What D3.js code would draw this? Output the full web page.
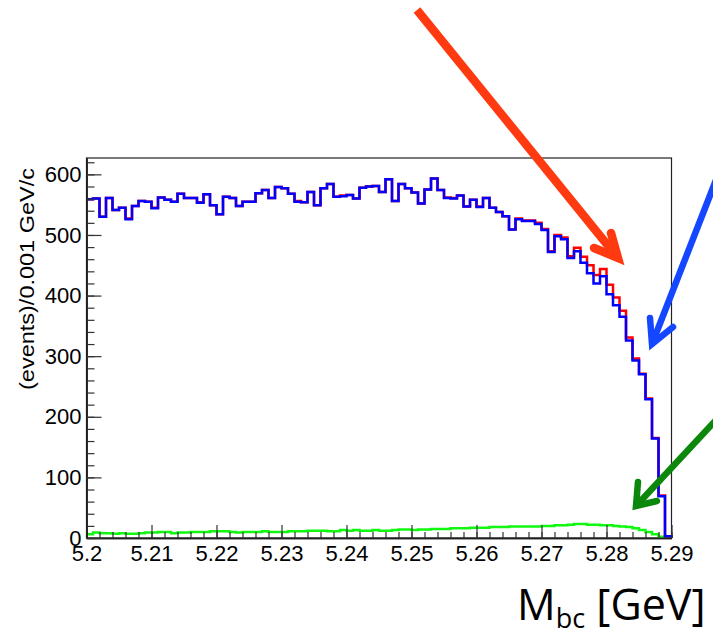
<!DOCTYPE html>
<html>
<head>
<meta charset="utf-8">
<script src="https://cdn.jsdelivr.net/npm/d3@7"></script>
<style>
  body { margin: 0; background: #fff; }
  svg { display: block; font-family: "Liberation Sans", Arial, sans-serif; }
</style>
</head>
<body>
<div id="chart-area"></div>
<script>
// histogram binning (M_bc, 0.001 GeV/c bins)
const BIN_START = 5.2
const BIN_WIDTH = 0.001

// blue: fitted total
const blueCounts = [
  559, 560, 530, 561, 541, 545, 526, 548, 556, 555,
  544, 562, 558, 555, 568, 561, 561, 553, 567, 549,
  534, 563, 561, 548, 555, 555, 569, 574, 561, 579,
  577, 568, 555, 554, 571, 549, 577, 584, 563, 564,
  566, 560, 578, 580, 581, 571, 592, 556, 584, 577,
  570, 552, 575, 593, 574, 561, 560, 565, 547, 558,
  546, 561, 545, 538, 531, 509, 526, 523, 523, 518,
  508, 472, 498, 493, 462, 473, 454, 437, 420, 432,
  402, 384, 365, 326, 293, 270, 229, 164, 69, 3
]

// red: data (sits just above blue near the endpoint)
const redCounts = [
  559, 560, 530, 561, 541, 545, 527, 548, 556, 555,
  545, 562, 558, 555, 568, 561, 561, 554, 567, 549,
  534, 563, 561, 548, 555, 555, 569, 574, 561, 579,
  577, 568, 556, 554, 571, 549, 577, 584, 563, 565,
  566, 560, 578, 580, 581, 571, 592, 556, 584, 577,
  570, 552, 575, 593, 574, 562, 561, 565, 547, 558,
  547, 561, 545, 538, 531, 509, 527, 524, 524, 520,
  510, 473, 500, 496, 465, 479, 464, 450, 434, 444,
  418, 397, 375, 331, 296, 271, 230, 165, 70, 3
]

// green: background
const greenCounts = [
  6, 9, 8, 8, 7, 8, 7, 7, 8, 9,
  9, 10, 10, 8, 9, 9, 10, 10, 10, 11,
  11, 11, 10, 9, 10, 10, 10, 11, 10, 10,
  10, 11, 11, 11, 12, 12, 12, 11, 11, 13,
  12, 13, 12, 12, 13, 12, 12, 13, 14, 14,
  13, 14, 14, 15, 15, 15, 16, 16, 16, 17,
  17, 17, 18, 18, 18, 19, 19, 19, 19, 19,
  20, 20, 21, 21, 22, 23, 23, 22, 22, 21,
  21, 20, 19, 18, 16, 13, 10, 6, 2, 1
]

const xTicks = [5.2, 5.21, 5.22, 5.23, 5.24, 5.25, 5.26, 5.27, 5.28, 5.29]
const yTicks = [0, 100, 200, 300, 400, 500, 600]
const Y_MAX = 627

const W = 713
const H = 635
const FRAME = { LEFT: 86.5, RIGHT: 671.5, TOP: 158, BOTTOM: 538 }

const svg = d3.select("#chart-area").append("svg")
  .attr("width", W)
  .attr("height", H)

svg.append("rect").attr("width", W).attr("height", H).attr("fill", "#fff")

// SCALES
const x = d3.scaleLinear()
  .domain([BIN_START, BIN_START + 90 * BIN_WIDTH])
  .range([FRAME.LEFT, FRAME.RIGHT])

const y = d3.scaleLinear()
  .domain([0, Y_MAX])
  .range([FRAME.BOTTOM, FRAME.TOP])

// minor tick positions (5 divisions)
const xMinor = d3.range(0, 46).map(i => +(BIN_START + i * 0.002).toFixed(3))
const yMinor = d3.range(0, 32).map(i => i * 20)

// frame
svg.append("rect")
  .attr("x", FRAME.LEFT).attr("y", FRAME.TOP)
  .attr("width", FRAME.RIGHT - FRAME.LEFT)
  .attr("height", FRAME.BOTTOM - FRAME.TOP)
  .attr("fill", "none")
  .attr("stroke", "#222")
  .attr("stroke-width", 1.2)

// HISTOGRAMS
const stepLine = d3.line()
  .x(d => x(d[0]))
  .y(d => y(d[1]))
  .curve(d3.curveStepAfter)

const toSteps = counts => {
  const pts = counts.map((c, i) => [BIN_START + i * BIN_WIDTH, c])
  pts.push([BIN_START + counts.length * BIN_WIDTH, counts[counts.length - 1]])
  pts.push([BIN_START + counts.length * BIN_WIDTH, 0])
  return pts
}

const series = [
  { counts: greenCounts, color: "#10f810" },
  { counts: redCounts, color: "#ff0000" },
  { counts: blueCounts, color: "#0000ff" }
]

svg.append("g").selectAll("path")
  .data(series)
  .enter().append("path")
    .attr("d", d => stepLine(toSteps(d.counts)))
    .attr("fill", "none")
    .attr("stroke", d => d.color)
    .attr("stroke-width", 2.5)
    .attr("stroke-linejoin", "miter")

// AXES
const xAxisMinor = d3.axisBottom(x).tickValues(xMinor).tickSize(-6).tickSizeOuter(0).tickFormat("")
const xAxisCall = d3.axisBottom(x).tickValues(xTicks).tickSize(-13).tickSizeOuter(0)
  .tickPadding(7)
  .tickFormat(d3.format(".2~f"))

const yAxisMinor = d3.axisLeft(y).tickValues(yMinor).tickSize(-8).tickSizeOuter(0).tickFormat("")
const yAxisCall = d3.axisLeft(y).tickValues(yTicks).tickSize(-15).tickSizeOuter(0)
  .tickPadding(5)

const axisStyle = g => {
  g.select(".domain").attr("stroke", "#222").attr("stroke-width", 1.6)
  g.selectAll(".tick line").attr("stroke", "#333").attr("stroke-width", 1.2)
  g.selectAll("text").attr("font-size", 22).attr("fill", "#000")
    .attr("font-family", "Liberation Sans, Arial, sans-serif")
}

svg.append("g").attr("transform", `translate(0, ${FRAME.BOTTOM})`).call(xAxisMinor).call(axisStyle)
svg.append("g").attr("transform", `translate(0, ${FRAME.BOTTOM})`).call(xAxisCall).call(axisStyle)
svg.append("g").attr("transform", `translate(${FRAME.LEFT}, 0)`).call(yAxisMinor).call(axisStyle)
svg.append("g").attr("transform", `translate(${FRAME.LEFT}, 0)`).call(yAxisCall).call(axisStyle)

// y title
svg.append("text")
  .attr("transform", `translate(34, 168) rotate(-90)`)
  .attr("text-anchor", "end")
  .attr("font-size", 20)
  .attr("textLength", 222)
  .attr("lengthAdjust", "spacingAndGlyphs")
  .text("(events)/0.001 GeV/c")

// x title
const xt = svg.append("text")
  .attr("x", 517).attr("y", 620)
  .attr("font-size", 43)
  .attr("font-family", "Open Sans, Liberation Sans, sans-serif")
xt.append("tspan").text("M")
xt.append("tspan").attr("font-size", 27).attr("dy", 8).text("bc")
xt.append("tspan").attr("dy", -8).text(" [GeV]")

// annotation arrows
const arrows = [
  { from: [417, 10], tip: [618, 258], arms: [[611, 233], [594, 248]], color: "#ff3a10", width: 8.5 },
  { from: [716, 180], tip: [652, 344], arms: [[650, 318], [673, 327]], color: "#1447ff", width: 6.5 },
  { from: [716, 420], tip: [636, 506], arms: [[638, 482], [657, 501]], color: "#0b870b", width: 6.5 }
]

const arrowG = svg.append("g")
arrows.forEach(a => {
  arrowG.append("line")
    .attr("x1", a.from[0]).attr("y1", a.from[1])
    .attr("x2", a.tip[0]).attr("y2", a.tip[1])
    .attr("stroke", a.color).attr("stroke-width", a.width)
  arrowG.append("path")
    .attr("d", `M${a.arms[0][0]},${a.arms[0][1]} L${a.tip[0]},${a.tip[1]} L${a.arms[1][0]},${a.arms[1][1]}`)
    .attr("fill", "none")
    .attr("stroke", a.color).attr("stroke-width", a.width)
    .attr("stroke-linecap", "round")
    .attr("stroke-linejoin", "miter")
})
</script>
</body>
</html>
